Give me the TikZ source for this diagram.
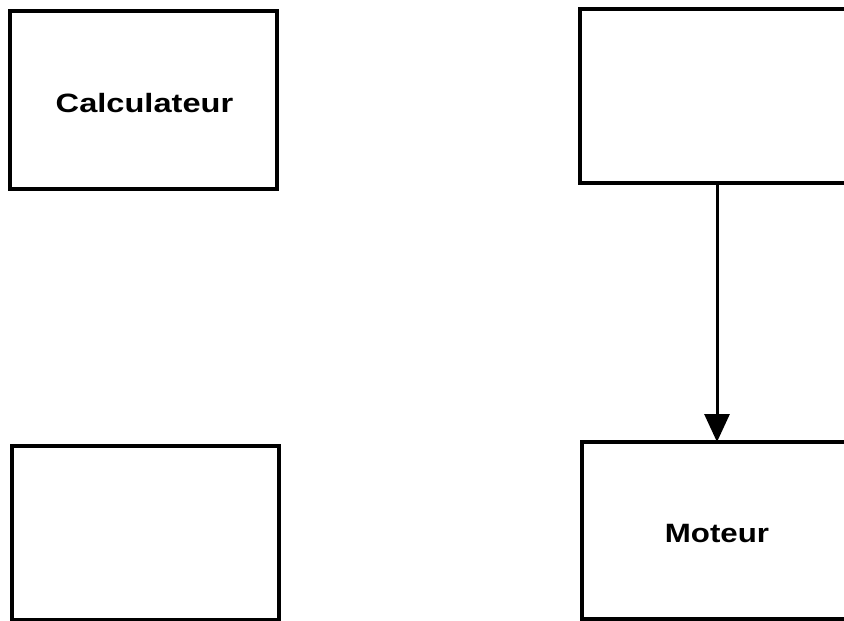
\documentclass[tikz,border=0pt]{standalone}
\usepackage{fontspec}
\usepackage{graphicx}
\setmainfont{Liberation Sans}
\usetikzlibrary{arrows.meta}
\begin{document}
\begin{tikzpicture}[x=1pt,y=-1pt,
  blockbox/.style={draw=black,line width=4pt,rectangle,inner sep=0pt,outer sep=0pt,fill=none},
  lbl/.style={inner sep=0pt,font=\fontsize{26.5}{30}\selectfont\bfseries},
  flow/.style={line width=3pt,-{Triangle[length=28pt,width=25pt]}}]
\useasboundingbox (0,0) rectangle (844,621);
\clip (0,0) rectangle (844,621);
\fill[white] (0,0) rectangle (844,621);
\node[blockbox,minimum width=267pt,minimum height=178pt] (calc) at (143.5,100) {};
\node[blockbox,minimum width=300pt,minimum height=174pt] (tr) at (730,96) {};
\node[blockbox,minimum width=267pt,minimum height=174pt] (bl) at (145.5,533) {};
\node[blockbox,minimum width=298pt,minimum height=177pt] (mot) at (731,530.5) {};
\node[lbl] (calctxt) at (144.5,103) {\scalebox{1.23}[1]{Calculateur}};
\node[lbl] (mottxt) at (717,533.5) {\scalebox{1.18}[1]{Moteur}};
\coordinate (ax) at (717,0);
\draw[flow] (tr.south -| ax) -- (mot.north -| ax);
\end{tikzpicture}
\end{document}
